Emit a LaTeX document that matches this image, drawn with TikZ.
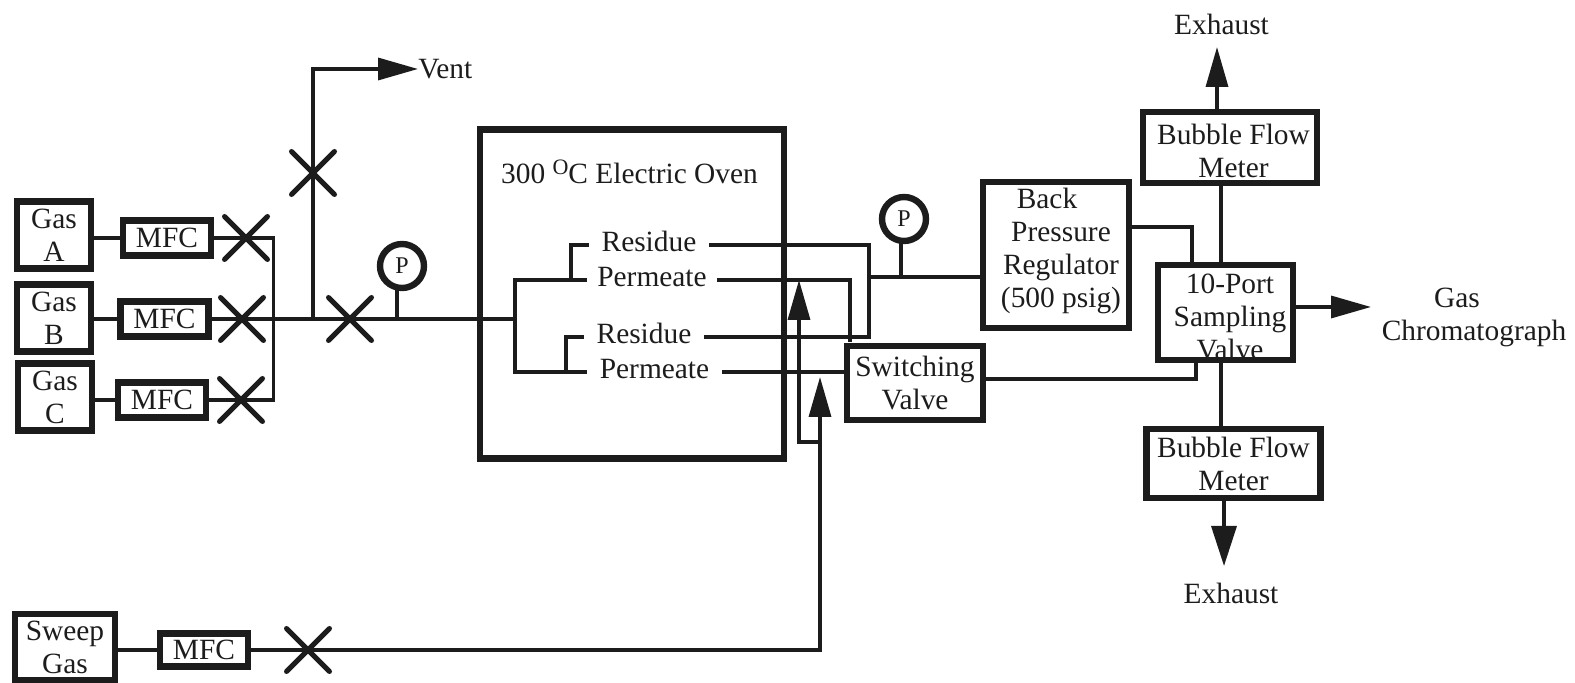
\documentclass[tikz,border=0pt]{standalone}
\usepackage{fontspec}
\setmainfont{Liberation Serif}
\usetikzlibrary{arrows.meta,shapes.misc}

\begin{document}
\begin{tikzpicture}[x=0.5pt,y=-0.5pt,
    lbox/.style={draw=lblack,line width=3.2pt,inner sep=0pt,outer sep=0pt,align=center,text=lblack},
    lgas/.style={lbox,minimum width=37pt,minimum height=33.5pt},
    lmfc/.style={lbox,minimum width=44pt,minimum height=17.5pt},
    lmeter/.style={lbox,minimum width=87pt,minimum height=35.5pt},
    lvalve/.style={draw=lblack,cross out,line width=2.5pt,line cap=round,minimum size=19pt,inner sep=0pt},
    lgauge/.style={draw=lblack,circle,line width=3.2pt,minimum size=22pt,inner sep=0pt,outer sep=0pt,text=lblack,font=\fontsize{12pt}{14pt}\selectfont},
    ltext/.style={inner sep=0pt,align=center,text=lblack},
    lport/.style={ltext,minimum width=60pt,text height=10pt,text depth=3pt},
    lperm/.style={lport,minimum width=65pt},
    lpipe/.style={draw=lblack,line width=1.7pt},
    lflow/.style={lpipe,-{Triangle[length=20pt,width=11pt]}},
    lwide/.style={lpipe,-{Triangle[length=20pt,width=12.5pt]}},
    font=\fontsize{14.7pt}{16.5pt}\selectfont]
  \definecolor{lblack}{RGB}{28,28,28}
  \useasboundingbox (0,0) rectangle (1575,683);

  \node[lgas] (gasa) at (54,235) {Gas\\A};
  \node[lgas] (gasb) at (54,318) {Gas\\B};
  \node[lgas] (gasc) at (55,397) {Gas\\C};
  \node[lmfc] (mfca) at (167,238) {MFC};
  \node[lmfc] (mfcb) at (164.5,319) {MFC};
  \node[lmfc] (mfcc) at (162,400) {MFC};
  \node[lvalve] (va) at (246,238) {};
  \node[lvalve] (vb) at (242,319) {};
  \node[lvalve] (vc) at (241,400) {};
  \node[lvalve] (vvent) at (313,173) {};
  \node[lvalve] (vmain) at (350,319) {};
  \node[lgauge] (pin) at (402,266) {P};
  \node[ltext,anchor=west] (vent) at (418,69) {Vent};

  \coordinate (bustop) at (273.5,238);
  \coordinate (busbot) at (273.5,400);
  \coordinate (busmid) at (273.5,319);
  \coordinate (venttee) at (313,319);
  \coordinate (pintee) at (397,319);
  \coordinate (split) at (515,319);

  \draw[lpipe] (gasa.east |- mfca) -- (mfca);
  \draw[lpipe] (gasb.east |- mfcb) -- (mfcb);
  \draw[lpipe] (gasc.east |- mfcc) -- (mfcc);
  \draw[lpipe] (mfca.east) -- (va.center) -- (bustop) -- (busbot) -- (vc.center) -- (mfcc.east);
  \draw[lpipe] (mfcb.east) -- (vb.center) -- (busmid);
  \draw[lpipe] (busmid) -- (vmain.center) -- (split);
  \draw[lpipe] (venttee) -- (vvent.center);
  \draw[lflow] (vvent.center) |- (vent.west);
  \draw[lpipe] (pintee) -- (pintee |- pin.south);

  \node[lbox,minimum width=152pt,minimum height=164.5pt] (oven) at (632,294) {};
  \node[ltext,anchor=base] (ovenname) at (629.5,184) {300 \raisebox{4.5pt}{\fontsize{11pt}{12pt}\selectfont O}C Electric Oven};
  \node[lport] (resa) at (649,245) {Residue};
  \node[lperm] (perma) at (652,280) {Permeate};
  \node[lport] (resb) at (644,337) {Residue};
  \node[lperm,minimum width=67.5pt] (permb) at (654.5,372) {Permeate};

  \coordinate (upa) at (571,280);
  \coordinate (upb) at (566,372);
  \draw[lpipe] (perma.west) -- (515,280 |- perma.west) -- (515,280 |- permb.west) -- (permb.west);
  \draw[lpipe] (upa) |- (resa.west);
  \draw[lpipe] (upb) |- (resb.west);

  \node[lbox,minimum width=68pt,minimum height=37pt] (switch) at (915,383) {Switching\\Valve};
  \node[lgauge] (pout) at (904,219) {P};
  \node[lbox,minimum width=73pt,minimum height=73pt] (bpr) at (1056,255) {};
  \node[ltext] (bprname) at (1061,250.5) {Back\hspace*{14pt}\\Pressure\\Regulator\\(500 psig)};
  \node[lbox,minimum width=67.5pt,minimum height=47.5pt] (sampler) at (1225.5,312.5) {};
  \node[ltext] (samplername) at (1230,316.5) {10-Port\\Sampling\\Valve};
  \node[lmeter] (metera) at (1230,147.5) {};
  \node[ltext] (meteraname) at (1233.5,151) {Bubble Flow\\Meter};
  \node[lmeter,minimum height=34.5pt] (meterb) at (1233.5,463.5) {Bubble Flow\\Meter};
  \node[ltext] (exhausta) at (1221.5,24) {Exhaust};
  \node[ltext] (exhaustb) at (1231,593) {Exhaust};
  \node[ltext] (chrom) at (1474,317) {Gas\hspace*{17pt}\\Chromatograph};

  \coordinate (restee) at (869,337);
  \coordinate (permdrop) at (850,342);
  \coordinate (ptee) at (869,277);
  \coordinate (pstem) at (901,277);
  \coordinate (bprout) at (1192,227);
  \coordinate (swout) at (1196,379);
  \coordinate (meterpipe) at (1221,225);
  \coordinate (tipa) at (1217,47);
  \coordinate (tipb) at (1224,566);
  \coordinate (tipc) at (1371,307);

  \draw[lpipe] (resa.east) -| (restee) -- (resb.east);
  \draw[lpipe] (perma.east) -| (permdrop);
  \draw[lpipe] (permb.east) -- (permb.east -| switch.west);
  \draw[lpipe] (ptee) -- (ptee -| bpr.west);
  \draw[lpipe] (pstem) -- (pstem |- pout.south);
  \draw[lpipe] (bpr.east |- bprout) -- (bprout) -- (bprout |- sampler.north);
  \draw[lpipe] (switch.east |- swout) -- (swout) -- (swout |- sampler.south);
  \draw[lpipe] (meterpipe |- metera.south) -- (meterpipe |- sampler.north);
  \draw[lpipe] (meterpipe |- sampler.south) -- (meterpipe |- meterb.north);
  \draw[lflow] (tipa |- metera.north) -- (tipa);
  \draw[lwide] (tipb |- meterb.south) -- (tipb);
  \draw[lflow] (tipc -| sampler.east) -- (tipc);

  \node[lbox,minimum width=50pt,minimum height=33pt] (sweep) at (65,647) {Sweep\\Gas};
  \node[lmfc,minimum height=16.5pt] (mfcs) at (204,650) {MFC};
  \node[lvalve] (vs) at (308,650) {};

  \coordinate (tips) at (820,377);
  \coordinate (sweeptee) at (820,442);
  \coordinate (tipr) at (799,280);

  \draw[lpipe] (sweep.east |- mfcs) -- (mfcs);
  \draw[lpipe] (mfcs.east) -- (vs.center);
  \draw[lflow] (vs.center) -| (tips);
  \draw[lflow] (sweeptee) -| (tipr);
\end{tikzpicture}
\end{document}
